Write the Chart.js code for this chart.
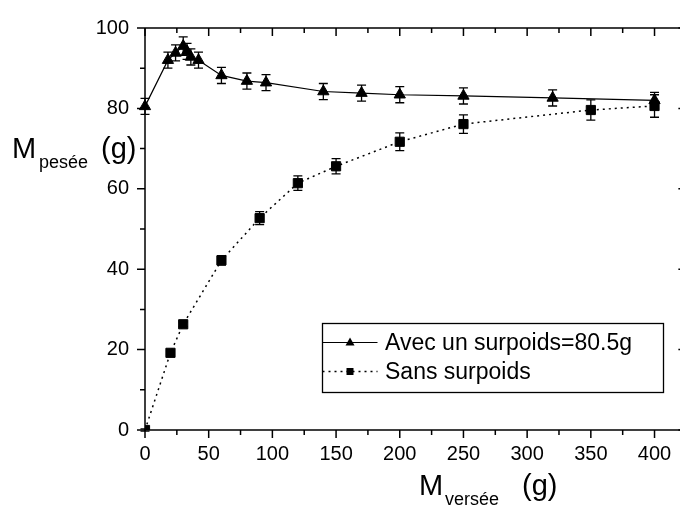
<!DOCTYPE html>
<html>
<head>
<meta charset="utf-8">
<script src="https://cdn.jsdelivr.net/npm/chart.js@4.4.0/dist/chart.umd.min.js"></script>
<style>
  html, body { margin: 0; padding: 0; background: #fff; overflow: hidden; }
  #wrap { width: 680px; height: 506px; position: relative; }
  canvas { display: block; }
</style>
</head>
<body>
<div id="wrap"><canvas id="massChart"></canvas></div>
<script>
// série avec surpoids (triangles)
const xAvec = [0, 18, 24, 30, 33, 36, 42, 60, 80, 95, 140, 170, 200, 250, 320, 400];
const yAvec = [80.5, 92, 93.8, 95.5, 94.2, 92.8, 92, 88.2, 86.8, 86.4, 84.2, 83.8, 83.4, 83.1, 82.6, 82];
const errAvec = [2, 2, 2, 2.3, 2, 2, 2, 2, 2, 2, 2, 2, 2, 2, 2, 2];

// série sans surpoids (carrés)
const xSans = [0, 20, 30, 60, 90, 120, 150, 200, 250, 350, 400];
const ySans = [0, 19.2, 26.3, 42.2, 52.7, 61.4, 65.6, 71.7, 76.1, 79.6, 80.6];
const errSans = [0.3, 0.5, 0.6, 1.2, 1.6, 1.8, 1.9, 2.2, 2.3, 2.5, 2.8];

const seriesLabels = ["Avec un surpoids=80.5g", "Sans surpoids"];

// graduations
const xMajor = [0, 50, 100, 150, 200, 250, 300, 350, 400];
const xMinor = [25, 75, 125, 175, 225, 275, 325, 375];
const yMajor = [0, 20, 40, 60, 80, 100];
const yMinor = [10, 30, 50, 70, 90];

const FONT = "'Liberation Sans', Arial, sans-serif";

const toPoints = (xs, ys) => xs.map((x, i) => ({ x: x, y: ys[i] }));

// la zone de tracé va jusqu'au bord droit du canvas (cadre coupé comme l'original)
const stretchRight = {
  id: "stretchRight",
  afterLayout(chart) {
    const xs = chart.scales.x;
    chart.chartArea.right = chart.width;
    chart.chartArea.width = chart.chartArea.right - chart.chartArea.left;
    xs.right = chart.width;
    xs.width = xs.right - xs.left;
    xs.configure();
  }
};

// barres d'erreur, dessinées sous les marqueurs
const errorBars = {
  id: "errorBars",
  beforeDatasetsDraw(chart) {
    const ctx = chart.ctx;
    const xs = chart.scales.x, ys = chart.scales.y;
    ctx.save();
    ctx.strokeStyle = "#000";
    ctx.lineWidth = 1.3;
    chart.data.datasets.forEach(ds => {
      ds.data.forEach((p, i) => {
        const e = ds.errors[i];
        const px = xs.getPixelForValue(p.x);
        const top = ys.getPixelForValue(p.y + e);
        const bot = ys.getPixelForValue(p.y - e);
        ctx.beginPath();
        ctx.moveTo(px, top); ctx.lineTo(px, bot);
        ctx.moveTo(px - 4.5, top); ctx.lineTo(px + 4.5, top);
        ctx.moveTo(px - 4.5, bot); ctx.lineTo(px + 4.5, bot);
        ctx.stroke();
      });
    });
    ctx.restore();
  }
};

// cadre + graduations majeures/mineures sur les 4 côtés
const frame = {
  id: "frame",
  afterDraw(chart) {
    const ctx = chart.ctx;
    const a = chart.chartArea;
    const xs = chart.scales.x, ys = chart.scales.y;
    ctx.save();
    ctx.strokeStyle = "#000";
    ctx.lineWidth = 1.5;
    ctx.beginPath();
    ctx.moveTo(a.left, a.top); ctx.lineTo(a.right + 10, a.top);
    ctx.moveTo(a.left, a.top); ctx.lineTo(a.left, a.bottom);
    ctx.lineTo(a.right + 10, a.bottom);
    ctx.stroke();
    ctx.beginPath();
    const rightEdge = xs.getPixelForValue(425);
    const xt = (v, len) => {
      const px = xs.getPixelForValue(v);
      ctx.moveTo(px, a.bottom); ctx.lineTo(px, a.bottom + len);
      ctx.moveTo(px, a.top); ctx.lineTo(px, a.top + len);
    };
    const yt = (v, len) => {
      const py = ys.getPixelForValue(v);
      ctx.moveTo(a.left, py); ctx.lineTo(a.left - len, py);
      ctx.moveTo(rightEdge, py); ctx.lineTo(rightEdge - len, py);
    };
    xMajor.forEach(v => xt(v, 8));
    xMinor.forEach(v => xt(v, 5));
    yMajor.forEach(v => yt(v, 8));
    yMinor.forEach(v => yt(v, 5));
    ctx.stroke();

    // titres des axes avec indice
    ctx.fillStyle = "#000";
    ctx.textBaseline = "alphabetic";
    ctx.textAlign = "left";
    ctx.font = "29px " + FONT;
    ctx.fillText("M", 12, 158);
    ctx.fillText("(g)", 101, 158);
    ctx.fillText("M", 419, 495);
    ctx.fillText("(g)", 522, 495);
    ctx.font = "18px " + FONT;
    ctx.fillText("pesée", 39, 168);
    ctx.fillText("versée", 445, 505);
    ctx.restore();
  }
};

// légende encadrée façon Origin
const boxLegend = {
  id: "boxLegend",
  afterDraw(chart) {
    const ctx = chart.ctx;
    const bx = 322.5, by = 323.5, bw = 341, bh = 69;
    ctx.save();
    ctx.fillStyle = "#fff";
    ctx.fillRect(bx, by, bw, bh);
    ctx.strokeStyle = "#000";
    ctx.lineWidth = 1.3;
    ctx.strokeRect(bx, by, bw, bh);
    const rows = [342.5, 371.5];
    chart.data.datasets.forEach((ds, i) => {
      const y = rows[i];
      ctx.beginPath();
      ctx.lineWidth = ds.borderWidth;
      ctx.setLineDash(ds.borderDash || []);
      ctx.moveTo(bx, y); ctx.lineTo(bx + 55, y);
      ctx.stroke();
      ctx.setLineDash([]);
      ctx.fillStyle = "#000";
      const cx = bx + 27.5;
      ctx.beginPath();
      if (ds.pointStyle === "triangle") {
        ctx.moveTo(cx, y - 5); ctx.lineTo(cx + 4.5, y + 3); ctx.lineTo(cx - 4.5, y + 3);
        ctx.closePath();
      } else {
        ctx.rect(cx - 3.5, y - 3.5, 7, 7);
      }
      ctx.fill();
      ctx.font = "23px " + FONT;
      ctx.textBaseline = "middle";
      ctx.fillText(ds.label, 385, y + 1);
    });
    ctx.restore();
  }
};

new Chart(document.getElementById("massChart"), {
  type: "line",
  data: {
    datasets: [{
      label: seriesLabels[0],
      data: toPoints(xAvec, yAvec),
      errors: errAvec,
      borderColor: "#000",
      backgroundColor: "#000",
      borderWidth: 1.2,
      pointStyle: "triangle",
      pointRadius: 6.5,
      pointBorderWidth: 1,
      clip: false
    }, {
      label: seriesLabels[1],
      data: toPoints(xSans, ySans),
      errors: errSans,
      borderColor: "#000",
      backgroundColor: "#000",
      borderWidth: 1.5,
      borderDash: [2, 4],
      pointStyle: "rect",
      pointRadius: 6.5,
      pointBorderWidth: 1
    }]
  },
  options: {
    responsive: true,
    maintainAspectRatio: false,
    animation: false,
    layout: { padding: { top: 25, right: 0, left: 0, bottom: 0 } },
    plugins: {
      legend: { display: false },
      tooltip: { enabled: false }
    },
    scales: {
      x: {
        type: "linear",
        min: 0,
        max: 420,
        afterBuildTicks: s => { s.ticks = xMajor.map(v => ({ value: v })); },
        afterFit: s => { s.height = 76; },
        grid: { display: false, drawTicks: false },
        border: { display: false },
        ticks: { color: "#000", padding: 12, maxRotation: 0, font: { family: FONT, size: 20 } }
      },
      y: {
        type: "linear",
        min: 0,
        max: 100,
        afterBuildTicks: s => { s.ticks = yMajor.map(v => ({ value: v })); },
        afterFit: s => { s.width = 145; },
        grid: { display: false, drawTicks: false },
        border: { display: false },
        ticks: { color: "#000", padding: 16, font: { family: FONT, size: 20 } }
      }
    }
  },
  plugins: [stretchRight, errorBars, frame, boxLegend]
});
</script>
</body>
</html>
